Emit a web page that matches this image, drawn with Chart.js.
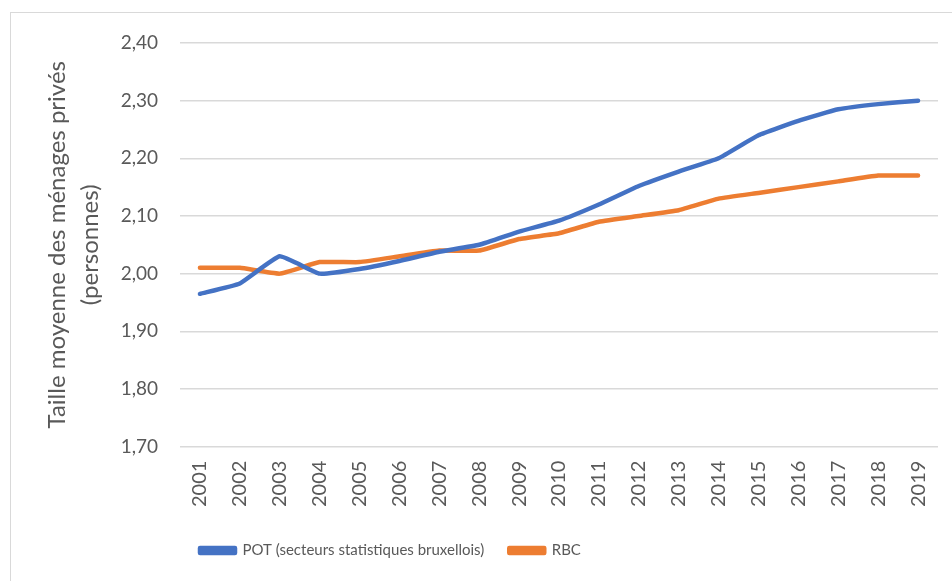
<!DOCTYPE html>
<html lang="fr">
<head>
  <meta charset="UTF-8">
  <title>Taille moyenne des ménages privés</title>
  <style>
    html, body { margin: 0; padding: 0; background: #fff; }
    #wrap { width: 952px; height: 581px; }
  </style>
</head>
<body>
<div id="wrap"><canvas id="lineChart" width="952" height="581"></canvas></div>

<script src="https://cdn.jsdelivr.net/npm/chart.js"></script>
<script>
  // Données
  const annees = ['2001', '2002', '2003', '2004', '2005', '2006', '2007', '2008', '2009', '2010',
                  '2011', '2012', '2013', '2014', '2015', '2016', '2017', '2018', '2019'];
  const pot = [1.965, 1.983, 2.030, 2.000, 2.008, 2.022, 2.038, 2.050, 2.073, 2.092,
               2.120, 2.152, 2.177, 2.200, 2.240, 2.265, 2.285, 2.294, 2.300];
  const rbc = [2.010, 2.010, 2.000, 2.020, 2.020, 2.030, 2.040, 2.040, 2.060, 2.070,
               2.090, 2.100, 2.110, 2.130, 2.140, 2.150, 2.160, 2.170, 2.170];
  const yTicks = [1.70, 1.80, 1.90, 2.00, 2.10, 2.20, 2.30, 2.40];

  const police = 'Lato, "Open Sans", sans-serif';
  const gris = '#595959';

  // cadre gris clair autour du graphique
  const cadre = {
    id: 'cadre',
    beforeDraw(chart) {
      const ctx = chart.ctx;
      ctx.save();
      ctx.strokeStyle = '#d9d9d9';
      ctx.lineWidth = 1;
      ctx.strokeRect(10.5, 12.5, 1000, 700);
      ctx.restore();
    }
  };

  // décale la légende vers la gauche comme dans Excel
  const legendeGauche = {
    id: 'legendeGauche',
    afterLayout(chart) {
      chart.legend.left = 175;
      chart.legend.top += 5;
    }
  };

  const ctx = document.getElementById('lineChart').getContext('2d');
  new Chart(ctx, {
    type: 'line',
    data: {
      labels: annees,
      datasets: [{
        label: 'POT (secteurs statistiques bruxellois)',
        data: pot,
        borderColor: '#4472C4',
        backgroundColor: '#4472C4',
        borderWidth: 4.5,
        pointRadius: 0,
        borderCapStyle: 'round',
        borderJoinStyle: 'round',
        tension: 0.12
      }, {
        label: 'RBC',
        data: rbc,
        borderColor: '#ED7D31',
        backgroundColor: '#ED7D31',
        borderWidth: 4.5,
        pointRadius: 0,
        borderCapStyle: 'round',
        borderJoinStyle: 'round',
        tension: 0.12
      }]
    },
    options: {
      responsive: false,
      animation: false,
      layout: { padding: { left: 40, right: 14, top: 43, bottom: 18 } },
      plugins: {
        tooltip: { enabled: false },
        legend: {
          position: 'bottom',
          align: 'start',
          labels: {
            color: gris,
            font: { family: police, size: 15 },
            boxWidth: 35,
            boxHeight: 5,
            padding: 25
          }
        }
      },
      scales: {
        x: {
          offset: true,
          grid: { display: false },
          border: { display: false },
          ticks: {
            color: gris,
            font: { family: police, size: 20 },
            minRotation: 90,
            maxRotation: 90,
            autoSkip: false,
            padding: 6
          }
        },
        y: {
          min: 1.7,
          max: 2.4,
          afterBuildTicks(axis) {
            axis.ticks = yTicks.map(v => ({ value: v }));
          },
          afterFit(axis) {
            axis.width = 140;
          },
          grid: { color: '#d9d9d9', lineWidth: 1.5, drawTicks: false },
          border: { display: false },
          ticks: {
            color: gris,
            font: { family: police, size: 19 },
            padding: 22,
            callback: v => v.toFixed(2).replace('.', ',')
          },
          title: {
            display: true,
            text: ['Taille moyenne des ménages privés', '(personnes)'],
            color: gris,
            font: { family: police, size: 24, lineHeight: 1.4 },
            padding: { top: 0, bottom: 0 }
          }
        }
      }
    },
    plugins: [cadre, legendeGauche]
  });
</script>
</body>
</html>
